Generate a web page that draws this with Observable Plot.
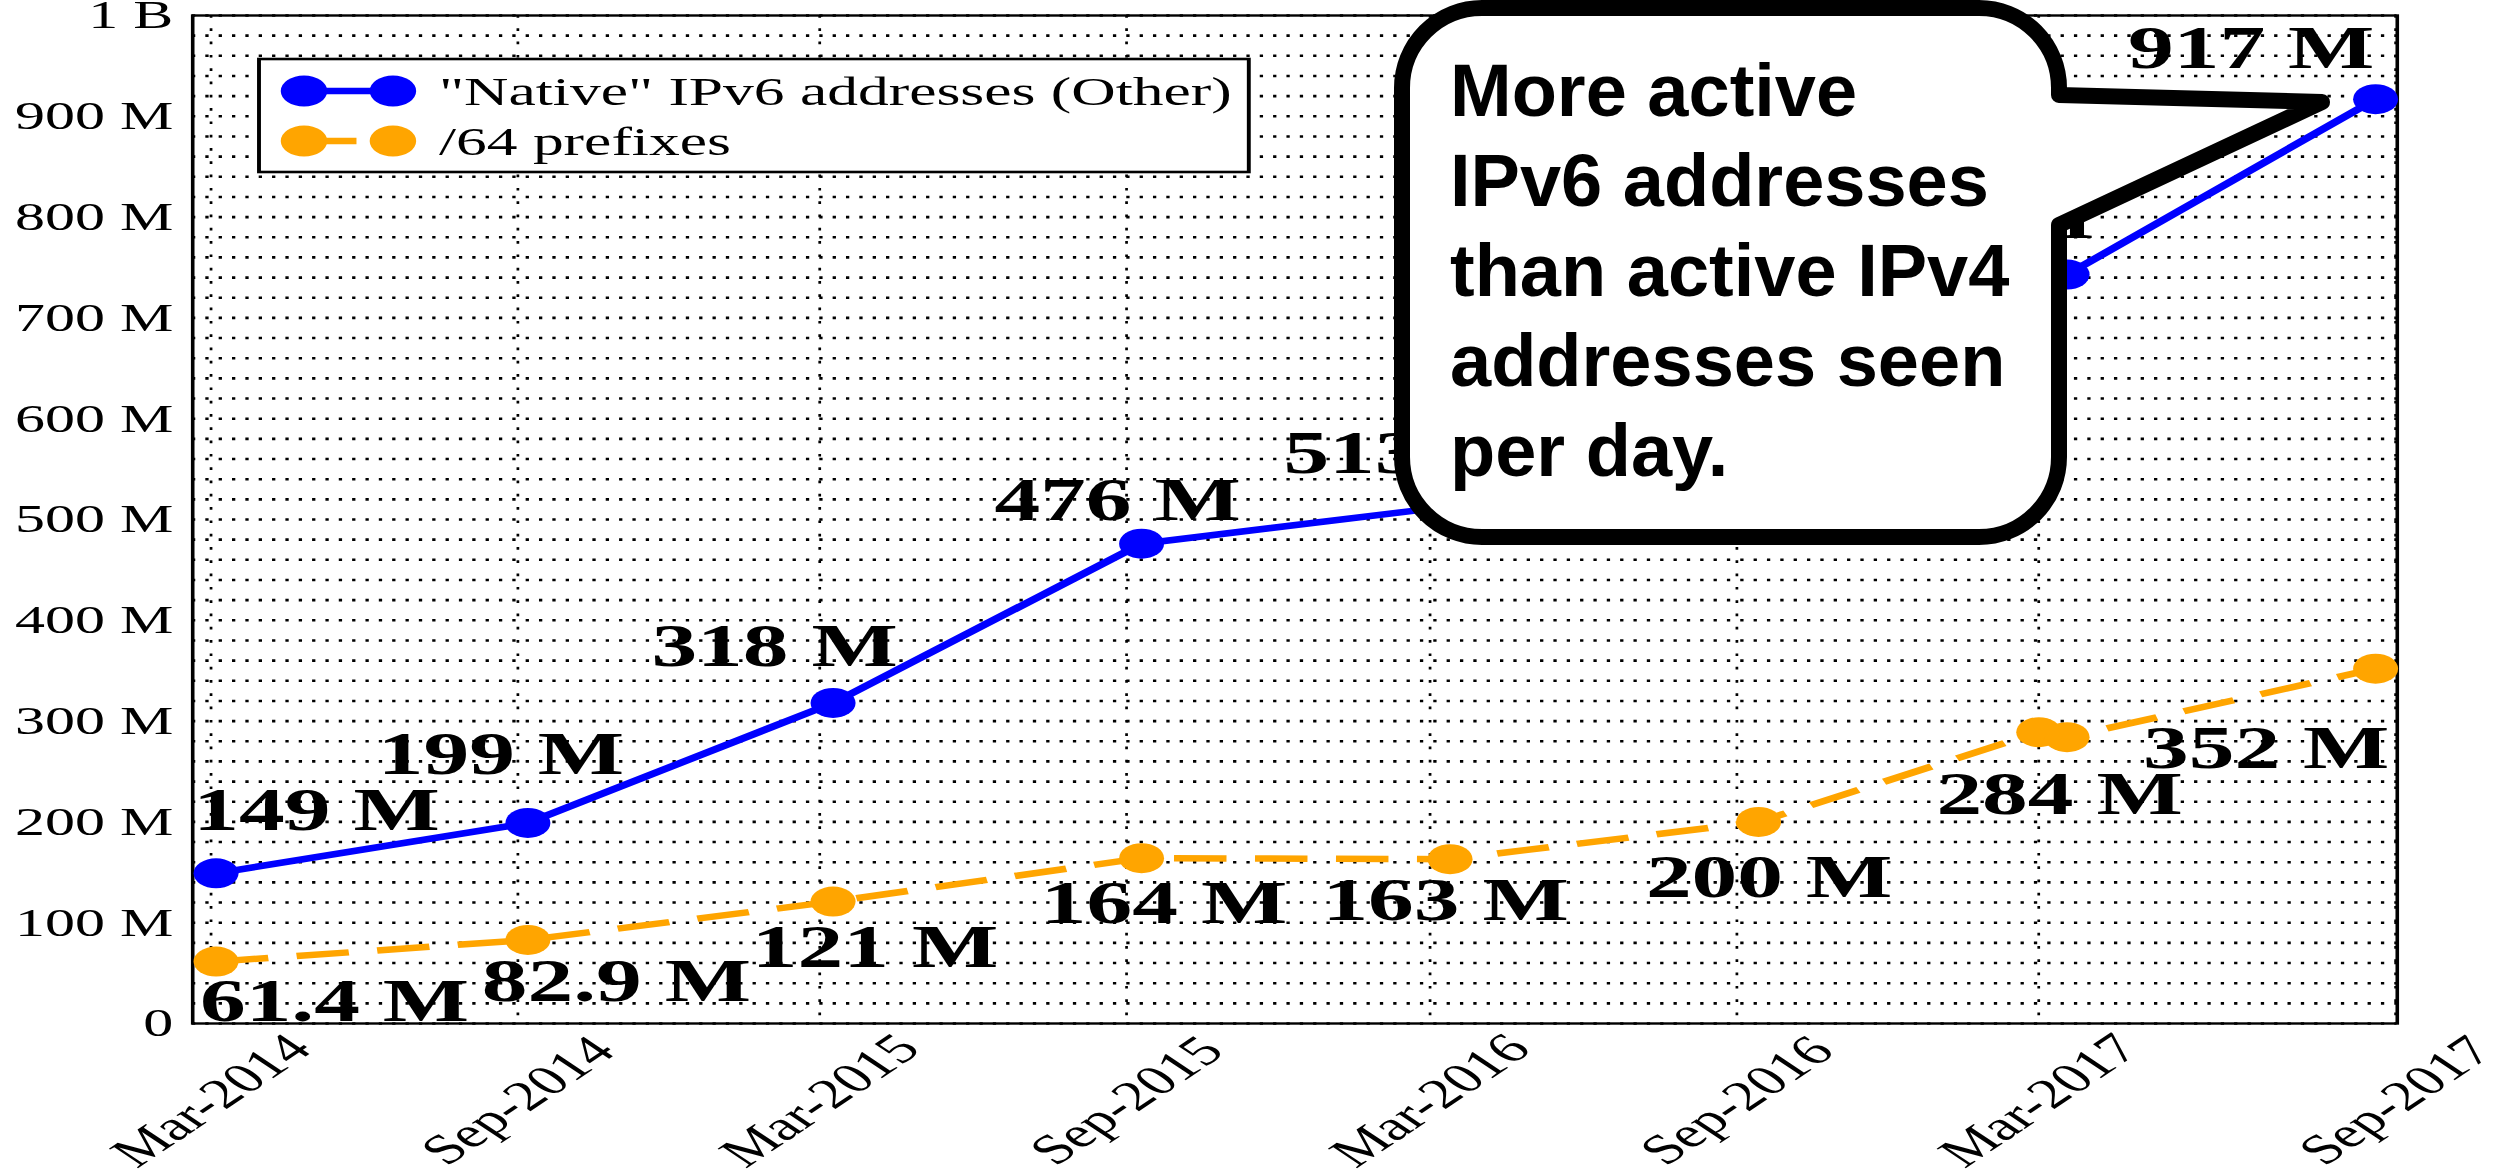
<!DOCTYPE html>
<html>
<head>
<meta charset="utf-8">
<script src="https://cdn.jsdelivr.net/npm/d3@7"></script>
<script src="https://cdn.jsdelivr.net/npm/@observablehq/plot@0.6"></script>
<style>
  html, body { margin: 0; padding: 0; background: #ffffff; overflow: hidden; }
  #wrap { width: 1663px; height: 1172px; transform-origin: 0 0; }
</style>
</head>
<body>
<div id="wrap"></div>
<script>
// ---------------- data ----------------
const dates = ["2014-03-04", "2014-09-07", "2015-03-09", "2015-09-10", "2016-03-13",
               "2016-09-14", "2017-03-01", "2017-03-18", "2017-09-19"];
const nativeIPv6 = [149e6, 199e6, 318e6, 476e6, 513e6, 625e6, 736e6, 743e6, 917e6];
const prefixes64 = [61.4e6, 82.9e6, 121e6, 164e6, 163e6, 200e6, 289e6, 284e6, 352e6];
const seriesNames = ["\"Native\" IPv6 addresses (Other)", "/64 prefixes"];
const tickDates = ["2014-03-01", "2014-09-01", "2015-03-01", "2015-09-01", "2016-03-01",
                   "2016-09-01", "2017-03-01", "2017-10-01"];
const tickLabels = ["Mar-2014", "Sep-2014", "Mar-2015", "Sep-2015", "Mar-2016",
                    "Sep-2016", "Mar-2017", "Sep-2017"];
const yTicks = [0, 100e6, 200e6, 300e6, 400e6, 500e6, 600e6, 700e6, 800e6, 900e6, 1e9];
const yTickLabels = ["0", "100 M", "200 M", "300 M", "400 M", "500 M", "600 M", "700 M", "800 M", "900 M", "1 B"];
const calloutLines = ["More active", "IPv6 addresses", "than active IPv4", "addresses seen", "per day."];

// ---------------- layout / style ----------------
const FULL_W = 2494, W = 1663, H = 1172;
const S = FULL_W / W;                       // horizontal stretch of the whole picture
const BLUE = "#0000ff", ORANGE = "#ffa500";
const SERIF = "'Liberation Serif', 'Times New Roman', serif";
const SANS = "'Liberation Sans', Arial, sans-serif";
// per-point label offsets [dx, dy] (null = no visible label)
const blueLabelOffsets = [[67, -63], [-18, -68], [-39, -56], [-16, -43], [-29, -53],
                          null, null, [-64, -56], [-83, -51]];
const orangeLabelOffsets = [[79, 40], [59, 42], [28, 46], [15, 45], [-3, 41],
                            [7, 56], null, [-5, 57], [-73, 80]];

const parse = s => new Date(s + "T00:00:00Z");
const blueData = dates.map((d, i) => ({date: parse(d), v: nativeIPv6[i]}));
const orangeData = dates.map((d, i) => ({date: parse(d), v: prefixes64[i]}));
const ticks = tickDates.map(parse);
const gridY = d3.range(0, 1e9 + 1, 20e6);
const fmt = v => d3.format(".3s")(v).replace(/([kMGB])$/, " $1");

const labelMarks = [];
[[blueData, blueLabelOffsets], [orangeData, orangeLabelOffsets]].forEach(([data, offs]) => {
  data.forEach((d, i) => {
    const o = offs[i];
    if (!o) return;
    labelMarks.push(Plot.text([d], {
      x: "date", y: "v", text: e => fmt(e.v), dx: o[0], dy: o[1],
      fontSize: 61, fontWeight: "bold", fontFamily: SERIF, fill: "black", textAnchor: "middle"
    }));
  });
});

const svg = Plot.plot({
  width: W, height: H,
  marginLeft: 128, marginRight: 65, marginTop: 15, marginBottom: 149,
  x: {type: "utc", domain: [parse("2014-02-18"), parse("2017-10-02")], axis: null},
  y: {domain: [0, 1e9], axis: null},
  style: {fontFamily: SERIF, background: "white", overflow: "visible"},
  marks: [
    Plot.ruleY(gridY, {stroke: "black", strokeWidth: 2.6, strokeDasharray: "2.2,6.7"}),
    Plot.ruleX(ticks, {stroke: "black", strokeWidth: 1.8, strokeDasharray: "2.7,10.6"}),
    Plot.frame({stroke: "black", strokeWidth: 2.4}),
    Plot.text(yTicks, {y: d => d, text: (d, i) => yTickLabels[i], frameAnchor: "left",
      textAnchor: "end", dx: -13, fontSize: 40, fill: "black"}),
    Plot.text(ticks, {x: d => d, text: (d, i) => tickLabels[i], frameAnchor: "bottom",
      dy: 77, rotate: -45, textAnchor: "middle", lineAnchor: "middle", fontSize: 42, fill: "black"}),
    Plot.line(blueData, {x: "date", y: "v", stroke: BLUE, strokeWidth: 6.5}),
    Plot.dot(blueData, {x: "date", y: "v", r: 15, fill: BLUE}),
    Plot.line(orangeData, {x: "date", y: "v", stroke: ORANGE, strokeWidth: 6.5,
      strokeDasharray: "35,19", strokeLinecap: "butt"}),
    Plot.dot(orangeData, {x: "date", y: "v", r: 15, fill: ORANGE}),
    ...labelMarks
  ]
});

// ---------------- legend (inside the frame, stretched with the chart) ----------------
const root = d3.select(svg);
const lg = root.append("g").attr("text-anchor", "start");
const LEG = {x: 172.7, y: 59, w: 660, h: 113, rows: [91, 141], c1: 202.7, c2: 262, tx: 292.7};
lg.append("rect").attr("x", LEG.x).attr("y", LEG.y).attr("width", LEG.w).attr("height", LEG.h)
  .attr("fill", "white").attr("stroke", "black").attr("stroke-width", 2.6);
[[BLUE, null], [ORANGE, "35,19"]].forEach(([col, dash], k) => {
  const yy = LEG.rows[k];
  const ln = lg.append("line").attr("x1", LEG.c1).attr("x2", LEG.c2).attr("y1", yy).attr("y2", yy)
    .attr("stroke", col).attr("stroke-width", 6.5);
  if (dash) ln.attr("stroke-dasharray", dash);
  [LEG.c1, LEG.c2].forEach(cx => lg.append("circle").attr("cx", cx).attr("cy", yy).attr("r", 15.5).attr("fill", col));
  lg.append("text").attr("x", LEG.tx).attr("y", yy).attr("dy", "0.34em").attr("text-anchor", "start")
    .attr("font-family", SERIF).attr("font-size", 41).attr("fill", "black").text(seriesNames[k]);
});

// ---------------- callout (drawn un-stretched) ----------------
const C = {left: 1402, right: 2059, top: 8, bottom: 537, r: 80,
           tailTop: 95, tip: [2322, 102], tailBottom: 225, textX: 1450, base0: 116, lineH: 90};
const cg = root.append("g").attr("transform", `scale(${1 / S},1)`).attr("text-anchor", "start");
const p = d3.path();
p.moveTo(C.left + C.r, C.top);
p.lineTo(C.right - C.r, C.top);
p.arcTo(C.right, C.top, C.right, C.top + C.r, C.r);
p.lineTo(C.right, C.tailTop);
p.lineTo(C.tip[0], C.tip[1]);
p.lineTo(C.right, C.tailBottom);
p.lineTo(C.right, C.bottom - C.r);
p.arcTo(C.right, C.bottom, C.right - C.r, C.bottom, C.r);
p.lineTo(C.left + C.r, C.bottom);
p.arcTo(C.left, C.bottom, C.left, C.bottom - C.r, C.r);
p.lineTo(C.left, C.top + C.r);
p.arcTo(C.left, C.top, C.left + C.r, C.top, C.r);
p.closePath();
cg.append("path").attr("d", p.toString()).attr("fill", "white").attr("stroke", "black")
  .attr("stroke-width", 16).attr("stroke-linejoin", "round");
calloutLines.forEach((t, i) => {
  cg.append("text").attr("x", C.textX).attr("y", C.base0 + i * C.lineH).attr("text-anchor", "start")
    .attr("font-family", SANS).attr("font-weight", "bold").attr("font-size", 74)
    .attr("fill", "black").text(t);
});

const wrap = document.getElementById("wrap");
wrap.style.transform = `scaleX(${S})`;
wrap.appendChild(svg);
</script>
</body>
</html>
